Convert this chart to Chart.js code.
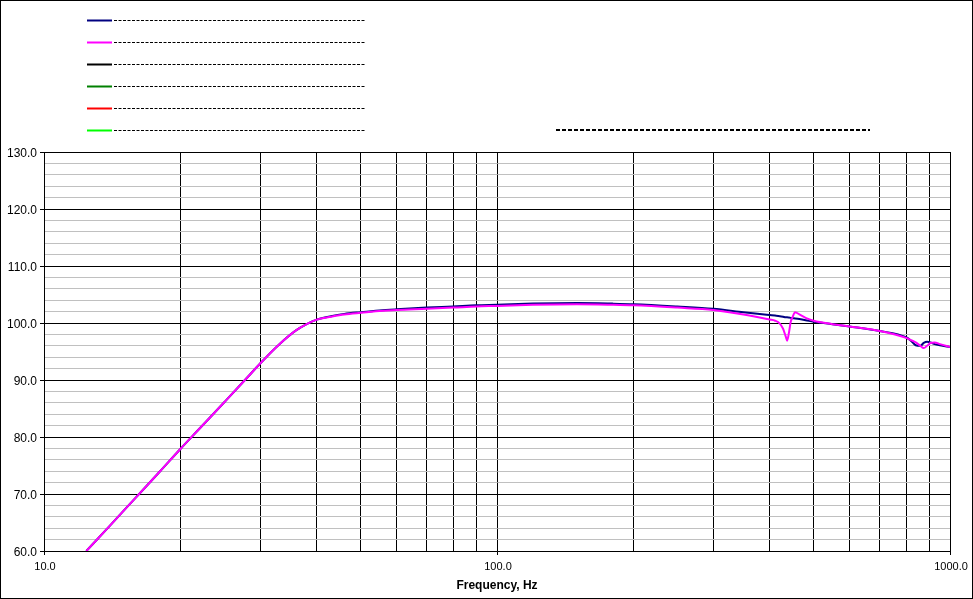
<!DOCTYPE html>
<html>
<head>
<meta charset="utf-8">
<script src="https://cdn.jsdelivr.net/npm/chart.js@4/dist/chart.umd.min.js"></script>
<style>
    html, body { margin: 0; padding: 0; background: #fff; }
    #wrap { width: 973px; height: 599px; position: relative; }
</style>
</head>
<body>
<div id="wrap"><canvas id="spl"></canvas></div>
<script>
// Data
const freqs = [12.4, 14, 16, 18, 20, 22, 25, 28, 30, 33, 36, 38, 40, 43, 46, 50, 55, 60, 70, 80, 90,
    100, 120, 150, 180, 200, 250, 300, 350, 400, 411, 421, 428, 434, 437, 441, 445, 449, 455, 465,
    480, 500, 550, 600, 700, 800, 820, 840, 860, 875, 890, 905, 925, 950, 1000];

const blueLevels = [60.0, 64.5, 69.5, 73.9, 77.9, 81.4, 86.1, 90.3, 92.9, 96.2, 98.7, 99.8, 100.6, 101.2, 101.6, 101.9, 102.2, 102.4, 102.7, 102.9, 103.1,
    103.2, 103.4, 103.5, 103.4, 103.3, 102.9, 102.5, 101.9, 101.4, 101.3, 101.2, 101.1, 101.0, 101.0, 100.95, 100.9, 100.85, 100.8, 100.7,
    100.5, 100.2, 99.8, 99.4, 98.6, 97.5, 96.9, 96.1, 96.0, 96.5, 96.7, 96.6, 96.3, 96.1, 95.8];

const magentaLevels = [60.0, 64.5, 69.5, 73.9, 77.9, 81.4, 86.1, 90.3, 92.9, 96.2, 98.7, 99.8, 100.6, 101.1, 101.5, 101.8, 102.1, 102.3, 102.5, 102.7, 102.9,
    103.0, 103.2, 103.3, 103.2, 103.1, 102.7, 102.3, 101.5, 100.6, 100.4, 99.9, 99.0, 97.6, 96.9, 98.3, 100.2, 101.0, 101.9, 101.5,
    100.9, 100.4, 99.8, 99.4, 98.6, 97.4, 97.0, 96.6, 96.0, 95.6, 96.0, 96.5, 96.6, 96.3, 95.8];

const seriesColors = ['#000080', '#FF00FF', '#000000', '#008000', '#FF0000', '#00FF00'];

// vertical grid: 1-9 per decade
const xGridValues = [10, 20, 30, 40, 50, 60, 70, 80, 90, 100, 200, 300, 400, 500, 600, 700, 800, 900, 1000];
const xLabelValues = [10, 100, 1000];

const yTicks = { min: 60, max: 130, step: 2, major: 10 };
const axisTitle = 'Frequency, Hz';

const FONT = '"Liberation Sans", Arial, sans-serif';

function toPoints(xs, ys) {
    return xs.map((x, i) => ({ x: x, y: ys[i] }));
}

// Legend swatches + frame, drawn like the spreadsheet export
const sheetDecor = {
    id: 'sheetDecor',
    afterDraw(chart) {
        const ctx = chart.ctx;
        ctx.save();
        chart.data.datasets.forEach((ds, i) => {
            const y = 20.5 + i * 22;
            ctx.setLineDash([]);
            ctx.lineWidth = 2;
            ctx.strokeStyle = ds.borderColor;
            ctx.beginPath();
            ctx.moveTo(87, y);
            ctx.lineTo(112, y);
            ctx.stroke();
            ctx.lineWidth = 1;
            ctx.strokeStyle = '#000';
            ctx.setLineDash([3, 1.5]);
            ctx.beginPath();
            ctx.moveTo(114, y);
            ctx.lineTo(365, y);
            ctx.stroke();
        });
        ctx.lineWidth = 2;
        ctx.setLineDash([4, 2]);
        ctx.beginPath();
        ctx.moveTo(556, 130);
        ctx.lineTo(870, 130);
        ctx.stroke();

        ctx.setLineDash([]);
        ctx.lineWidth = 1;
        ctx.strokeRect(0.5, 0.5, chart.width - 1, chart.height - 1);
        ctx.restore();
    }
};

const datasets = [
    { label: '', data: toPoints(freqs, blueLevels), borderColor: seriesColors[0], order: 2 },
    { label: '', data: toPoints(freqs, magentaLevels), borderColor: seriesColors[1], order: 1 },
    { label: '', data: [], borderColor: seriesColors[2], order: 3 },
    { label: '', data: [], borderColor: seriesColors[3], order: 4 },
    { label: '', data: [], borderColor: seriesColors[4], order: 5 },
    { label: '', data: [], borderColor: seriesColors[5], order: 6 }
].map(ds => Object.assign(ds, {
    borderWidth: 2,
    pointRadius: 0,
    fill: false,
    cubicInterpolationMode: 'monotone'
}));

const isLabelled = v => xLabelValues.includes(v);

new Chart(document.getElementById('spl'), {
    type: 'line',
    data: { datasets: datasets },
    options: {
        responsive: true,
        maintainAspectRatio: false,
        animation: false,
        layout: { padding: { top: 152, right: 23, bottom: 0, left: 0 } },
        plugins: {
            legend: { display: false },
            tooltip: { enabled: false }
        },
        scales: {
            x: {
                type: 'logarithmic',
                min: xGridValues[0],
                max: xGridValues[xGridValues.length - 1],
                afterBuildTicks: s => { s.ticks = xGridValues.map(v => ({ value: v, major: isLabelled(v) })); },
                border: { color: '#000', width: 1 },
                grid: {
                    color: '#000',
                    lineWidth: 1,
                    tickLength: 4,
                    tickColor: c => isLabelled(c.tick.value) ? '#000' : 'rgba(0,0,0,0)'
                },
                ticks: {
                    autoSkip: false,
                    maxRotation: 0,
                    padding: 5,
                    labelOffset: 1,
                    color: '#000',
                    font: { family: FONT, size: 11 },
                    callback: v => isLabelled(v) ? Number(v).toFixed(1) : ''
                },
                title: {
                    display: true,
                    text: axisTitle,
                    color: '#000',
                    font: { family: FONT, size: 12, weight: 'bold' },
                    padding: { top: 2, bottom: 6 }
                },
                afterFit: s => { s.height = 48; }
            },
            y: {
                type: 'linear',
                min: yTicks.min,
                max: yTicks.max,
                border: { color: '#000', width: 1 },
                grid: {
                    lineWidth: 1,
                    tickLength: 4,
                    color: c => c.tick.value % yTicks.major === 0 ? '#000' : '#C0C0C0',
                    tickColor: c => c.tick.value % yTicks.major === 0 ? '#000' : 'rgba(0,0,0,0)'
                },
                ticks: {
                    stepSize: yTicks.step,
                    autoSkip: false,
                    padding: 3,
                    labelOffset: 2,
                    color: '#000',
                    font: { family: FONT, size: 12 },
                    callback: v => v % yTicks.major === 0 ? Number(v).toFixed(1) : ''
                },
                afterFit: s => { s.width = 44; }
            }
        }
    },
    plugins: [sheetDecor]
});
</script>
</body>
</html>
